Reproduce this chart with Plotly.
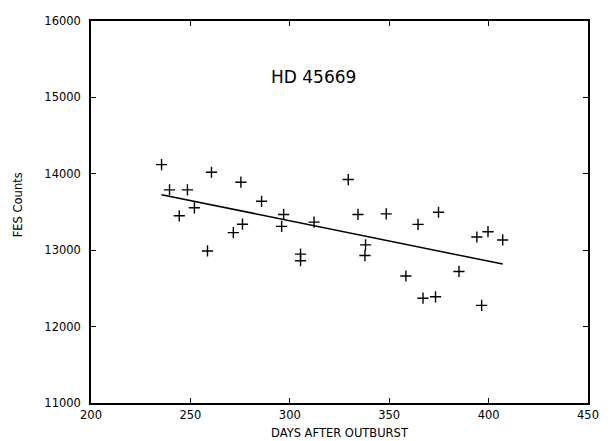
import plotly.graph_objects as go

days = [235.5, 239.5, 244.4, 248.5, 252.0, 258.6, 260.6, 271.6, 275.4, 276.2,
        285.8, 295.9, 296.9, 305.4, 305.4, 312.2, 329.4, 334.3, 337.8, 338.1,
        348.5, 358.4, 364.5, 367.0, 373.3, 374.8, 385.1, 394.1, 396.5, 399.7, 407.1]
counts = [14120, 13790, 13450, 13790, 13555, 12990, 14020, 13230, 13890, 13340,
          13640, 13312, 13468, 12948, 12862, 13368, 13925, 13468, 12930, 13070,
          13475, 12662, 13338, 12372, 12390, 13497, 12722, 13173, 12278, 13242, 13134]

fit_days = [235.5, 407.1]
fit_counts = [13727, 12818]

x_ticks = [200, 250, 300, 350, 400, 450]
x_tick_labels = ["200", "250", "300", "350", "400", "450"]
y_ticks = [11000, 12000, 13000, 14000, 15000, 16000]
y_tick_labels = ["11000", "12000", "13000", "14000", "15000", "16000"]

fig = go.Figure()
fig.add_trace(go.Scatter(x=fit_days, y=fit_counts, mode="lines",
                         line=dict(color="black", width=1.5), showlegend=False))
fig.add_trace(go.Scatter(x=days, y=counts, mode="markers",
                         marker=dict(symbol="cross-thin", size=8,
                                     line=dict(color="black", width=1.4)),
                         showlegend=False))

axis_common = dict(showgrid=False, zeroline=False, showline=True, linecolor="black",
                   linewidth=1.5, mirror="ticks", ticks="inside", ticklen=5,
                   tickwidth=1, tickcolor="black",
                   tickfont=dict(family="DejaVu Sans", size=11.5, color="black"))

fig.update_xaxes(range=[200, 450], tickvals=x_ticks, ticktext=x_tick_labels,
                 **axis_common)
fig.update_yaxes(range=[11000, 16000], tickvals=y_ticks, ticktext=y_tick_labels,
                 ticklabelstandoff=6, **axis_common)

fig.add_annotation(text="HD 45669", xref="paper", yref="paper", x=0.4485, y=0.853,
                   showarrow=False, xanchor="center", yanchor="middle",
                   font=dict(family="DejaVu Sans", size=17, color="black"))
fig.add_annotation(text="DAYS AFTER OUTBURST", xref="paper", yref="paper", x=0.5,
                   y=-0.0785, showarrow=False, xanchor="center", yanchor="middle",
                   font=dict(family="DejaVu Sans", size=11.5, color="black"))
fig.add_annotation(text="FES Counts", xref="paper", yref="paper", x=-0.1465,
                   y=0.518, showarrow=False, xanchor="center", yanchor="middle",
                   textangle=-90,
                   font=dict(family="DejaVu Sans", size=11.5, color="black"))

fig.update_layout(width=611, height=441, margin=dict(l=91, r=15, t=21, b=38),
                  plot_bgcolor="white", paper_bgcolor="white")

fig.write_html(
    "out.html",
    config={"displayModeBar": False},
    post_script="document.body.style.margin='0';document.body.style.overflow='hidden';",
)
